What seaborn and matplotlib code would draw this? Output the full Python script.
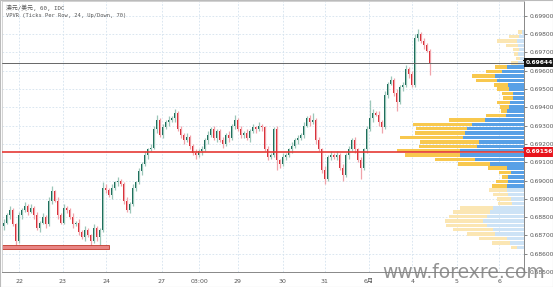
import numpy as np
import pandas as pd
import matplotlib
matplotlib.use("Agg")
import matplotlib.pyplot as plt
import matplotlib.transforms as mtransforms
from matplotlib.patches import Rectangle
import seaborn as sns

# ---------------- data ----------------
first_open = 0.6875
closes = [0.6877,0.6881,0.6884,0.6876,0.6867,0.6881,0.6884,0.6886,0.6883,0.6885,
          0.6881,0.6874,0.6877,0.6880,0.6876,0.6889,0.6894,0.6889,0.6881,0.6877,
          0.6885,0.6884,0.6880,0.6876,0.6877,0.6872,0.6869,0.6873,0.6870,0.6867,
          0.6874,0.6869,0.6873,0.6896,0.6895,0.6892,0.6896,0.6899,0.6900,0.6898,
          0.6889,0.6884,0.6887,0.6896,0.6899,0.6905,0.6909,0.6914,0.6917,0.6918,
          0.6928,0.6933,0.6925,0.6929,0.6932,0.6933,0.6934,0.6937,0.6928,0.6925,
          0.6922,0.6924,0.6919,0.6915,0.6914,0.6916,0.6917,0.6922,0.6925,0.6928,
          0.6923,0.6927,0.6922,0.6920,0.6925,0.6923,0.6930,0.6933,0.6928,0.6925,
          0.6926,0.6923,0.6927,0.6929,0.6928,0.6930,0.6929,0.6917,0.6913,0.6914,
          0.6928,0.6911,0.6909,0.6913,0.6914,0.6917,0.6919,0.6922,0.6923,0.6925,
          0.6930,0.6934,0.6932,0.6933,0.6922,0.6917,0.6906,0.6901,0.6913,0.6914,
          0.6913,0.6914,0.6907,0.6903,0.6914,0.6917,0.6922,0.6917,0.6911,0.6907,
          0.6917,0.6928,0.6934,0.6937,0.6936,0.6932,0.6929,0.6947,0.6953,0.6955,
          0.6948,0.6943,0.6951,0.6952,0.6961,0.6958,0.6952,0.6978,0.6980,0.6976,
          0.6974,0.6971,0.69644]
# wick lengths in pips (0.0001)
wick_up = [2,1,2,1,1,2,1,2,1,2, 1,2,1,2,1,2,3,1,2,1, 2,1,1,2,1,2,1,2,1,1,
           2,1,1,3,2,1,2,1,2,1, 1,2,1,2,1,2,1,2,1,2, 2,3,1,2,1,2,1,2,1,2,
           1,2,1,1,2,1,2,1,2,1, 2,1,1,2,1,2,1,3,1,2, 1,2,1,2,1,2,1,1,2,1,
           1,2,1,2,1,1,2,1,2,1, 2,1,2,4,1,2,1,2,1,2, 1,2,1,2,1,2,1,2,1,2,
           1,2,10,2,1,2,1,2,1,2, 1,2,1,2,2,1,2,2,3,1, 2,1,1]
wick_dn = [2,1,2,1,2,1,2,1,2,1, 2,1,2,1,2,1,2,1,2,1, 1,2,1,2,1,2,1,2,1,2,
           1,2,4,1,2,1,2,1,2,1, 2,1,2,1,2,1,2,1,2,1, 1,2,1,2,1,2,1,2,1,2,
           2,1,2,1,2,1,2,1,2,1, 1,2,1,2,1,2,1,2,1,2, 2,1,2,1,2,1,2,1,2,1,
           1,5,2,1,2,1,2,1,2,1, 2,1,2,1,2,1,2,3,1,2, 1,2,1,3,1,2,1,2,1,6,
           1,2,1,2,1,2,3,1,2,1, 2,5,1,2,1,2,1,1,2,1, 2,1,7]

# volume profile rows (top row center, row size = 24 ticks)
row_top = 0.69811
row_step = 0.00024
vol_down = [4,10,20,12,6,4,4,7,12,16,23,21,14,12,11,10,13,9,6,20,36,59,51,50,63,59,58,63,55,40,
            32,19,12,6,12,15,18,15,14,14,33,37,38,38,41,40,28,28,18,6]
vol_up = [2,5,7,6,5,6,4,6,17,22,29,27,16,15,11,11,14,15,17,18,39,52,57,59,61,45,47,64,64,49,
          34,17,13,16,16,17,17,16,13,12,31,34,37,41,37,31,29,17,14,7]
value_area = (0.68971, 0.69619)

last_price = 0.69644
poc_line = 0.69156
zone_x = (-0.5, 35.0)
zone_y = (0.68626, 0.68648)

tick_labels = ['22', '23', '24', '27', '03:00', '29', '30', '31', '6月', '4', '5', '6']
tick_pos = [5.3, 19.7, 34.3, 52.7, 65.3, 78, 93, 107, 121.7, 136.3, 151, 165.3]
price_ticks = [0.685, 0.686, 0.687, 0.688, 0.689, 0.690, 0.691, 0.692, 0.693,
               0.694, 0.695, 0.696, 0.697, 0.698, 0.699]

# ---------------- style ----------------
sns.set_theme(style="white")
plt.rcParams['font.family'] = ['DejaVu Sans', 'Noto Sans CJK SC']

W, H = 553, 287
fig = plt.figure(figsize=(W / 100, H / 100), dpi=100)
ax = fig.add_axes([2 / W, (H - 272) / H, 522 / W, 271 / H])

C = np.array(closes)
O = np.r_[first_open, C[:-1]]
Hi = np.maximum(O, C) + np.array(wick_up) * 0.0001
Lo = np.minimum(O, C) - np.array(wick_dn) * 0.0001
x = np.arange(len(C))
df = pd.DataFrame(dict(x=x, o=O, c=C, h=Hi, l=Lo))
df['up'] = df.c >= df.o

body_up, body_dn = '#1f6e5c', '#d8333b'
wick_upc, wick_dnc = '#9cc7b9', '#f0a3aa'

ax.vlines(df.x, df.l, df.h, colors=np.where(df.up, wick_upc, wick_dnc), lw=0.9, zorder=2)
bh = np.maximum((df.c - df.o).abs(), 0.00003)
ax.bar(df.x, bh, bottom=np.minimum(df.o, df.c), width=0.62,
       color=np.where(df.up, body_up, body_dn), linewidth=0, zorder=3)

ax.add_patch(Rectangle((zone_x[0], zone_y[0]), zone_x[1] - zone_x[0], zone_y[1] - zone_y[0],
                       facecolor='#e88585', edgecolor='#c0392b', lw=0.6, zorder=2))

ax.set_xlim(-0.5, 173.5)
ax.set_ylim(0.6850, 0.69981)

ax.set_xticks(tick_pos)
ax.set_xticklabels(tick_labels)
ax.set_yticks(price_ticks)
ax.set_yticklabels([f'{p:.5f}' for p in price_ticks])
ax.yaxis.tick_right()
ax.tick_params(axis='y', labelsize=4.3, colors='#555', length=2, width=0.5, pad=2, labelcolor='#555')
ax.tick_params(axis='x', labelsize=4.5, length=0, pad=5, labelcolor='#555')
ax.grid(True, ls=(0, (2, 2)), color='#d3e2ee', lw=0.6)
ax.set_axisbelow(True)
for s in ['top', 'left']:
    ax.spines[s].set_color('#cccccc')
    ax.spines[s].set_linewidth(0.6)
for s in ['right', 'bottom']:
    ax.spines[s].set_color('#888888')
    ax.spines[s].set_linewidth(0.7)

# volume profile on a twin axis, bars growing from the right
ax2 = ax.twiny()
ax2.set_xlim(522, 0)
ax2.set_ylim(ax.get_ylim())
ax2.axis('off')
rows = row_top - row_step * np.arange(len(vol_up))
prof = pd.DataFrame(dict(p=rows, up=vol_up, dn=vol_down))
inva = (prof.p >= value_area[0] - 1e-7) & (prof.p <= value_area[1] + 1e-7)
ax2.barh(prof.p, prof.up, left=0, height=row_step * 0.8,
         color=np.where(inva, '#58a0e6', '#cde3f6'), linewidth=0, zorder=3)
ax2.barh(prof.p, prof.dn, left=prof.up, height=row_step * 0.8,
         color=np.where(inva, '#f8c84e', '#fbe6b3'), linewidth=0, zorder=3)

ax2.axhline(poc_line, color='#e53935', lw=1.2, zorder=5)
ax2.axhline(last_price, color='#666666', lw=0.7, zorder=5)

tr = mtransforms.blended_transform_factory(ax.transAxes, ax.transData)
ax.text(1.003, last_price, f'{last_price:.5f}', transform=tr, fontsize=4.3, color='white',
        fontweight='bold', va='center', ha='left',
        bbox=dict(boxstyle='square,pad=0.35', fc='#111111', ec='none'), zorder=10, clip_on=False)
ax.text(1.003, poc_line, f'{poc_line:.5f}', transform=tr, fontsize=4.3, color='white',
        fontweight='bold', va='center', ha='left',
        bbox=dict(boxstyle='square,pad=0.35', fc='#e8141c', ec='none'), zorder=10, clip_on=False)

mono = ['DejaVu Sans Mono', 'Noto Sans CJK SC']
fig.text(6 / W, 1 - 8 / H, '澳元/美元, 60, IDC', fontsize=4.2, color='#555', family=mono, va='center')
fig.text(6 / W, 1 - 16 / H, 'VPVR (Ticks Per Row, 24, Up/Down, 70)', fontsize=3.9,
         color='#555', family=mono, va='center')

fig.text(382 / W, 9 / H, 'www.forexre.com', fontsize=13.5, color='#808080', alpha=0.85,
         va='baseline', ha='left', zorder=20)

fig.add_artist(Rectangle((0, 0), 1, 1, transform=fig.transFigure, fill=False,
                         ec='#bbbbbb', lw=0.8))

fig.savefig('out.png', dpi=100)
